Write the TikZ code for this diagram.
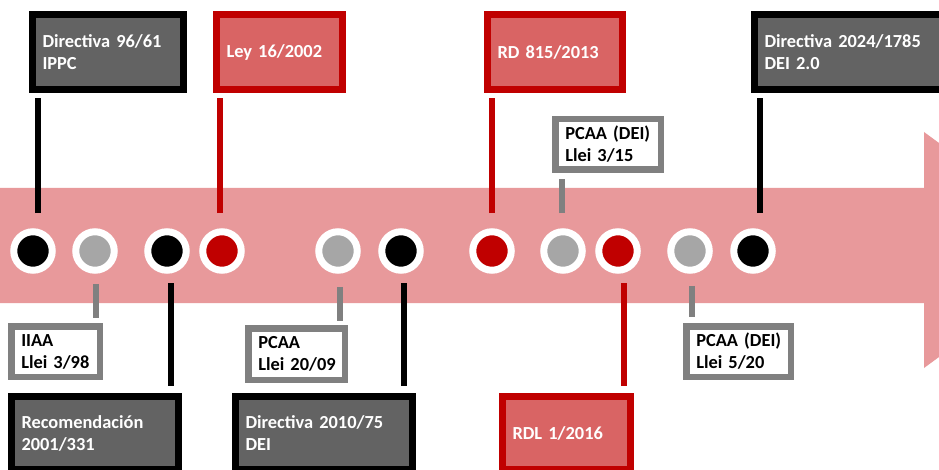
\documentclass[tikz,border=0pt]{standalone}
\usepackage{fontspec}
\setmainfont{Carlito}
\usepackage{xcolor}
\definecolor{boxgray}{HTML}{636363}
\definecolor{lawred}{HTML}{C00000}
\definecolor{lawfill}{HTML}{D96464}
\definecolor{bandpink}{HTML}{E8999B}
\definecolor{dotgray}{HTML}{A6A6A6}
\definecolor{linegray}{HTML}{808080}
\tikzset{
  darkbox/.style={draw=black, fill=boxgray, text=white, line width=7pt, inner xsep=10pt, inner ysep=3pt,
    align=left, font=\bfseries\fontsize{18.4}{22}\selectfont},
  redbox/.style={darkbox, draw=lawred, fill=lawfill},
  graybox/.style={darkbox, draw=linegray, fill=white, text=black, line width=6.5pt},
  dot/.style={circle, draw=white, line width=7pt, minimum size=38.5pt, inner sep=0pt},
  stem/.style={line width=6pt},
}

\begin{document}
\begin{tikzpicture}[x=1pt, y=-1pt]
\clip (0,0) rectangle (939,470);
\fill[white] (0,0) rectangle (939,470);
% timeline arrow
\fill[bandpink] (0,188) -- (924,188) -- (924,132) -- (1085,250) -- (924,368) -- (924,303) -- (0,303) -- cycle;

% dots
\node[dot, fill=black] (c1) at (33,251) {};
\node[dot, fill=dotgray] (c2) at (95,251) {};
\node[dot, fill=black] (c3) at (167,251) {};
\node[dot, fill=lawred] (c4) at (222,251) {};
\node[dot, fill=dotgray] (c5) at (338,251) {};
\node[dot, fill=black] (c6) at (401,251) {};
\node[dot, fill=lawred] (c7) at (492,251) {};
\node[dot, fill=dotgray] (c8) at (563,251) {};
\node[dot, fill=lawred] (c9) at (618,251) {};
\node[dot, fill=dotgray] (c10) at (690,251) {};
\node[dot, fill=black] (c11) at (753,251) {};

% boxes above
\node[darkbox, minimum width=151pt, text width=131pt, minimum height=75pt] (b1) at (108,52) {Directiva~96/61\\IPPC};
\node[redbox, minimum width=126pt, text width=106pt, minimum height=75pt] (b2) at (279.5,52) {Ley~16/2002};
\node[redbox, minimum width=135pt, text width=115pt, minimum height=75pt] (b3) at (555,52) {RD~815/2013};
\node[graybox, minimum width=105.5pt, text width=85.5pt, minimum height=50.5pt] (b4) at (608,144.5) {PCAA~(DEI)\\Llei~3/15};
\node[darkbox, minimum width=202pt, text width=182pt, minimum height=75pt] (b5) at (855.5,52) {Directiva~2024/1785\\DEI~2.0};

% boxes below
\node[graybox, minimum width=88.5pt, text width=68.5pt, minimum height=50.5pt] (b6) at (55.5,351.5) {IIAA\\Llei~3/98};
\node[darkbox, minimum width=167pt, text width=147pt, minimum height=73pt] (b7) at (95,433) {Recomendación\\2001/331};
\node[graybox, minimum width=96.5pt, text width=76.5pt, minimum height=51.5pt] (b8) at (296.5,354) {PCAA\\Llei~20/09};
\node[darkbox, minimum width=177pt, text width=157pt, minimum height=73pt] (b9) at (324,433) {Directiva~2010/75\\DEI};
\node[redbox, minimum width=128pt, text width=108pt, minimum height=73pt] (b10) at (566.5,433) {RDL~1/2016};
\node[graybox, minimum width=104.5pt, text width=84.5pt, minimum height=50.5pt] (b11) at (738.5,351.5) {PCAA~(DEI)\\Llei~5/20};

% stems up
\draw[stem, black, shorten <=15pt, shorten >=5pt] ([xshift=5pt]c1.north) -- ([xshift=5pt]c1.north |- b1.south);
\draw[stem, lawred, shorten <=15pt, shorten >=5pt] ([xshift=-2pt]c4.north) -- ([xshift=-2pt]c4.north |- b2.south);
\draw[stem, lawred, shorten <=15pt, shorten >=5pt] (c7.north) -- (c7.north |- b3.south);
\draw[stem, linegray, shorten <=15pt, shorten >=6pt] ([xshift=-1pt]c8.north) -- ([xshift=-1pt]c8.north |- b4.south);
\draw[stem, black, shorten <=15pt, shorten >=5pt] ([xshift=7pt]c11.north) -- ([xshift=7pt]c11.north |- b5.south);

% stems down
\draw[stem, linegray, shorten <=10pt, shorten >=5pt] ([xshift=1pt]c2.south) -- ([xshift=1pt]c2.south |- b6.north);
\draw[stem, black, shorten <=9.5pt, shorten >=7pt] ([xshift=4pt]c3.south) -- ([xshift=4pt]c3.south |- b7.north);
\draw[stem, linegray, shorten <=13pt, shorten >=4pt] ([xshift=2pt]c5.south) -- ([xshift=2pt]c5.south |- b8.north);
\draw[stem, black, shorten <=9.5pt, shorten >=7pt] ([xshift=3pt]c6.south) -- ([xshift=3pt]c6.south |- b9.north);
\draw[stem, lawred, shorten <=9.5pt, shorten >=7pt] ([xshift=6pt]c9.south) -- ([xshift=6pt]c9.south |- b10.north);
\draw[stem, linegray, shorten <=12pt, shorten >=6pt] ([xshift=2pt]c10.south) -- ([xshift=2pt]c10.south |- b11.north);
\end{tikzpicture}
\end{document}
